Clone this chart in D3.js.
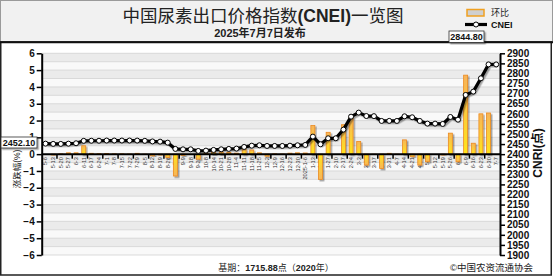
<!DOCTYPE html>
<html><head><meta charset="utf-8">
<script src="https://cdn.jsdelivr.net/npm/d3@7"></script>
<style>
html,body{margin:0;padding:0;background:#fff;}
svg{display:block;font-family:"Liberation Sans","Noto Sans CJK SC",Arial,sans-serif;}
</style></head>
<body>
<svg id="c" width="553" height="278"></svg>
<script>
const dates = ["5-6","5-13","5-20","5-27","6-3","6-11","6-17","6-24","7-1","7-8","7-15","7-22","7-29","8-5","8-12","8-19","8-26","9-2","9-9","9-18","9-23","10-8","10-14","10-21","10-28","11-4","11-11","11-18","11-25","12-2","12-9","12-16","12-23","12-30","2025-1-6","1-13","1-20","1-27","2-10","2-17","2-24","3-3","3-10","3-17","3-24","3-31","4-7","4-14","4-21","4-28","5-6","5-12","5-19","5-26","6-3","6-9","6-16","6-23","6-30","7-7"];
const cnei = [2452.1,2450.8,2450.8,2452.0,2454.0,2466.0,2466.5,2466.5,2467.5,2467.5,2467.5,2467.5,2467.3,2466.0,2463.0,2462.0,2457.0,2426.0,2424.0,2424.0,2416.0,2417.5,2421.0,2424.0,2426.0,2427.5,2435.7,2442.0,2444.0,2440.7,2440.7,2440.7,2442.0,2444.0,2445.6,2487.0,2449.0,2478.7,2478.7,2521.6,2586.0,2606.0,2589.0,2588.5,2564.6,2565.0,2564.6,2587.7,2582.8,2564.6,2551.4,2551.4,2549.7,2584.4,2571.0,2693.5,2710.0,2776.0,2845.0,2844.8];
const huanbi = [0,-0.05,0.02,0.08,0.08,0.5,0.05,0.03,0.04,0.02,0.02,0.01,0.05,-0.03,-0.1,-0.05,-0.2,-1.3,-0.08,0,-0.3,0.06,0.12,0.12,0.1,0.06,0.3,0.25,0.08,-0.12,0.02,0.01,0.06,0.08,0.07,1.7,-1.5,1.3,0,1.75,2.2,0.75,-0.65,-0.02,-0.85,0.05,-0.02,0.85,-0.15,-0.65,-0.45,0,-0.05,1.25,-0.45,4.7,0.65,2.4,2.45,0];
const leftTicks = [-6,-5,-4,-3,-2,-1,0,1,2,3,4,5,6];
const rightTicks = [1900,1950,2000,2050,2100,2150,2200,2250,2300,2350,2400,2450,2500,2550,2600,2650,2700,2750,2800,2850,2900];
const bandEdges = [-6,-5.5,-5,-4.5,-4,-3.5,-3,-2.5,-2,-1.5,-1,-0.5,0,0.5,1,1.5,2,2.5,3,3.5,4,4.5,5,5.5,6];

const svg = d3.select("#c");
const W = 553, H = 278;
const L = 41.7, R = 500, T = 53.3, B = 255;

const defs = svg.append("defs");
const sh = defs.append("filter").attr("id","sh").attr("x","-50%").attr("y","-50%").attr("width","200%").attr("height","200%");
sh.append("feDropShadow").attr("dx",1.5).attr("dy",1.5).attr("stdDeviation",0.7).attr("flood-color","#000").attr("flood-opacity",0.35);
const gp = defs.append("linearGradient").attr("id","gp").attr("x1",0).attr("y1",0).attr("x2",0).attr("y2",1);
gp.append("stop").attr("offset","0%").attr("stop-color","#f7b45a");
gp.append("stop").attr("offset","100%").attr("stop-color","#ffe51a");
const gn = defs.append("linearGradient").attr("id","gn").attr("x1",0).attr("y1",0).attr("x2",0).attr("y2",1);
gn.append("stop").attr("offset","0%").attr("stop-color","#ffe51a");
gn.append("stop").attr("offset","100%").attr("stop-color","#f7b45a");

// backgrounds
svg.append("rect").attr("x",0).attr("y",0).attr("width",W).attr("height",H).attr("fill","#fff");
svg.append("rect").attr("x",0.5).attr("y",0.5).attr("width",W-1).attr("height",41.5).attr("fill","#f1f1f1").attr("stroke","#9a9a9a");
svg.append("rect").attr("x",0.75).attr("y",42).attr("width",W-2.5).attr("height",233).attr("fill","#fff").attr("stroke","#222").attr("stroke-width",1.5);
svg.append("line").attr("x1",0).attr("x2",W).attr("y1",42.3).attr("y2",42.3).attr("stroke","#111").attr("stroke-width",2);

const x = d3.scaleBand().domain(d3.range(dates.length)).range([L,R]).padding(0);
const yL = d3.scaleLinear().domain([-6,6]).range([B,T]);
const yR = d3.scaleLinear().domain([1900,2900]).range([B,T]);
const cx = i => x(i) + x.bandwidth()/2;

// grid bands
const g = svg.append("g");
for (let i=0;i<bandEdges.length-1;i++){
  g.append("rect").attr("x",L).attr("width",R-L)
   .attr("y",yL(bandEdges[i+1])).attr("height",yL(bandEdges[i])-yL(bandEdges[i+1]))
   .attr("fill", i%2===1 ? "#ebebeb" : "#f9f9f9");
}
g.selectAll("line.gl").data(bandEdges).join("line").attr("class","gl")
 .attr("x1",L).attr("x2",R).attr("y1",d=>yL(d)).attr("y2",d=>yL(d))
 .attr("stroke","#d2d2d2").attr("stroke-width",0.8);

// x tick labels
const y0 = yL(0);
const xl = svg.append("g").attr("font-size",5.6).attr("fill","#333");
xl.selectAll("text").data(dates).join("text")
  .attr("transform",(d,i)=>`translate(${cx(i)},${y0+3}) rotate(-90)`)
  .attr("text-anchor","end").attr("dy","0.35em").text(d=>d);

// bars
svg.append("g").selectAll("rect").data(huanbi).join("rect")
  .attr("x",(d,i)=>cx(i)-2).attr("width",4)
  .attr("y",d=>d>=0?yL(d):y0).attr("height",d=>Math.abs(yL(d)-y0))
  .attr("fill",d=>d>=0?"url(#gp)":"url(#gn)")
  .attr("stroke","#ec8a1e").attr("stroke-width",0.8)
  .attr("filter","url(#sh)");

// x axis line + ticks
svg.append("line").attr("x1",L).attr("x2",R).attr("y1",y0).attr("y2",y0).attr("stroke","#000").attr("stroke-width",2);
const tickIdx = d3.range(1,dates.length-1,2);
svg.append("g").selectAll("line").data(tickIdx).join("line")
  .attr("x1",i=>x(i)+x.bandwidth()).attr("x2",i=>x(i)+x.bandwidth())
  .attr("y1",y0).attr("y2",y0+4.5).attr("stroke","#000").attr("stroke-width",1.5);

// CNEI line
const line = d3.line().x((d,i)=>cx(i)).y(d=>yR(d));
svg.append("path").datum(cnei).attr("d",line).attr("fill","none")
  .attr("stroke","#000").attr("stroke-width",3.2).attr("stroke-linejoin","round").attr("filter","url(#sh)");
svg.append("g").selectAll("circle").data(cnei).join("circle")
  .attr("cx",(d,i)=>cx(i)).attr("cy",d=>yR(d)).attr("r",2.5)
  .attr("fill","#fff").attr("stroke","#000").attr("stroke-width",1);

// axes
const axL = svg.append("g").attr("transform",`translate(${L},0)`)
  .call(d3.axisLeft(yL).tickValues(leftTicks).tickSize(5).tickSizeOuter(0).tickPadding(2).tickFormat(d3.format("d")));
const axR = svg.append("g").attr("transform",`translate(${R},0)`)
  .call(d3.axisRight(yR).tickValues(rightTicks).tickSize(5).tickSizeOuter(0).tickPadding(2).tickFormat(d3.format("d")));
[axL,axR].forEach(a=>{
  a.select(".domain").attr("stroke","#000").attr("stroke-width",2);
  a.selectAll(".tick line").attr("stroke","#000").attr("stroke-width",1.5);
  a.selectAll(".tick text").attr("font-size",10).attr("font-weight","bold").attr("fill","#111")
    .attr("font-family","'Liberation Sans',Arial,sans-serif");
});

// axis titles
svg.append("text").attr("transform","translate(17,169) rotate(-90)").attr("text-anchor","middle")
  .attr("dy","0.35em").attr("font-size",8.5).attr("fill","#222").text("涨跌幅(%)");
svg.append("text").attr("transform","translate(538,153) rotate(-90)").attr("text-anchor","middle")
  .attr("dy","0.35em").attr("font-size",12).attr("font-weight","bold").attr("fill","#111").text("CNRI(点)");

// value boxes
function vbox(bx,by,bw,bh,txt){
  svg.append("rect").attr("x",bx).attr("y",by).attr("width",bw).attr("height",bh)
    .attr("fill","#fff").attr("stroke","#333").attr("stroke-width",0.8).attr("filter","url(#sh)");
  svg.append("text").attr("x",bx+bw/2).attr("y",by+bh/2).attr("dy","0.35em").attr("text-anchor","middle")
    .attr("font-size",9).attr("font-weight","bold").attr("fill","#111").text(txt);
}
vbox(1,137,36,11,d3.format(".2f")(cnei[0]));
vbox(449,31,35,11.5,d3.format(".2f")(cnei[cnei.length-1]));

// title
svg.append("text").attr("x",263).attr("y",21.5).attr("text-anchor","middle").attr("font-size",17.5).attr("fill","#222")
  .call(t=>{
    t.append("tspan").attr("font-family","'Noto Sans CJK SC',sans-serif").text("中国尿素出口价格指数");
    t.append("tspan").attr("font-weight","bold").attr("font-family","'Liberation Sans',Arial,sans-serif").text("(CNEI)");
    t.append("tspan").attr("font-family","'Noto Sans CJK SC',sans-serif").text("一览图");
  });
svg.append("text").attr("x",260).attr("y",36.5).attr("text-anchor","middle").attr("font-size",11)
  .attr("font-weight","bold").attr("fill","#222").text("2025年7月7日发布");

// legend
svg.append("rect").attr("x",467).attr("y",9.5).attr("width",17).attr("height",6.5)
  .attr("fill","#cfcfcf").attr("stroke","#f0a020").attr("stroke-width",1.5);
svg.append("text").attr("x",491).attr("y",16).attr("font-size",9).attr("fill","#222").text("环比");
svg.append("line").attr("x1",465).attr("x2",487).attr("y1",24.5).attr("y2",24.5).attr("stroke","#000").attr("stroke-width",3.2);
svg.append("circle").attr("cx",476).attr("cy",24.5).attr("r",2.5).attr("fill","#fff").attr("stroke","#000");
svg.append("text").attr("x",491).attr("y",27.5).attr("font-size",9).attr("font-weight","bold").attr("fill","#111").text("CNEI");

// footer
svg.append("text").attr("x",276).attr("y",271).attr("text-anchor","middle").attr("font-size",9).attr("fill","#222")
  .call(t=>{
    t.append("tspan").text("基期：");
    t.append("tspan").attr("font-weight","bold").text("1715.88");
    t.append("tspan").text("点（");
    t.append("tspan").attr("font-weight","bold").text("2020");
    t.append("tspan").text("年）");
  });
svg.append("text").attr("x",533).attr("y",271).attr("text-anchor","end").attr("font-size",9.5).attr("fill","#222").text("©中国农资流通协会");
</script>
</body></html>
